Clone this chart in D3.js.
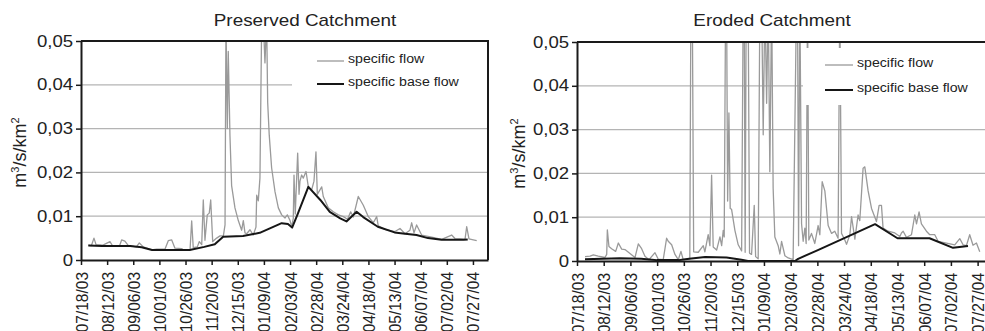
<!DOCTYPE html>
<html><head><meta charset="utf-8">
<script src="https://cdn.jsdelivr.net/npm/d3@7"></script>
<style>
html,body{margin:0;padding:0;background:#fff;}
svg{display:block;font-family:"Liberation Sans",Arial,sans-serif;}
</style></head>
<body>
<svg id="chart" width="985" height="331"></svg>
<script>
// ---------- data (day offsets from 07/18/03, values in m3/s/km2) ----------
const tickLabels = ["07/18/03","08/12/03","09/06/03","10/01/03","10/26/03","11/20/03","12/15/03","01/09/04","02/03/04","02/28/04","03/24/04","04/18/04","05/13/04","06/07/04","07/02/04","07/27/04"];
const tickDays = [0,25,50,75,100,125,150,175,200,225,250,275,300,325,350,375];
const yTicks = [0,0.01,0.02,0.03,0.04,0.05];
const titles = ["Preserved Catchment","Eroded Catchment"];
const seriesNames = ["specific flow","specific base flow"];

const preservedFlowDay = [7,10,12.4,14.4,21,27.7,30.3,37,38.9,42,45.3,53,55.8,59.6,67.6,72.4,80.4,83.5,86.7,89.9,96.3,98,104.3,105.9,107.4,111.3,113.2,115.5,117,118.6,120.8,122.7,124.1,126,129.8,133,136.2,137.8,138.7,140,140.9,142.5,144.1,147.3,150.5,153.7,155.3,156.9,158.5,161.7,164.8,167.4,168.1,169.6,171.2,172.9,174.4,176,177.6,178.6,180.1,182.4,185.6,188.8,192,195.2,197.4,200,201.6,203.1,203.8,205,206.4,207.3,208.6,209.5,211.1,212.7,215.3,217.5,220.7,222.9,224.8,226.1,230.3,231.8,236.6,241.4,246.2,251,255,258,260.5,265.3,270.1,274.9,279.7,282.9,284.4,290.8,300.4,305.2,310,314.7,316.4,318.6,321.1,325.9,335.5,345.1,354.6,357.8,362.6,367.4,369,371.2,375.3,378.6];
const preservedFlow = [0.0034,0.0033,0.005,0.0035,0.0034,0.0042,0.0032,0.0033,0.0046,0.0043,0.0033,0.003,0.0039,0.003,0.0023,0.0025,0.0025,0.0044,0.0046,0.0027,0.0026,0.0023,0.0023,0.0089,0.0028,0.003,0.0042,0.0035,0.0137,0.0045,0.0103,0.0107,0.0137,0.0042,0.005,0.0055,0.0055,0.008,0.055,0.03,0.0476,0.0285,0.017,0.0119,0.009,0.0068,0.009,0.0062,0.006,0.0069,0.0057,0.0075,0.0148,0.0135,0.0187,0.055,0.055,0.045,0.055,0.036,0.0285,0.021,0.0156,0.0119,0.0103,0.0096,0.0103,0.009,0.0076,0.0095,0.0194,0.0105,0.019,0.0244,0.015,0.018,0.0194,0.0187,0.0202,0.0167,0.016,0.018,0.0247,0.015,0.0167,0.0145,0.0119,0.011,0.0103,0.0099,0.0093,0.011,0.0098,0.0145,0.0125,0.0099,0.0085,0.0099,0.0078,0.007,0.0065,0.0072,0.006,0.0068,0.0085,0.0062,0.008,0.0057,0.0052,0.0047,0.0057,0.0049,0.0048,0.0047,0.0076,0.0048,0.0046,0.0044];
const preservedBaseDay = [7,20,47,58,68,104,118,128,136,155,171,192,198,202,207,217.5,229,238,248,254,263.7,270,284,300,310,321,332,345,366,370];
const preservedBase = [0.0033,0.0032,0.0032,0.0029,0.0023,0.0023,0.003,0.0036,0.0053,0.0055,0.0062,0.0084,0.0082,0.0074,0.0103,0.0167,0.0137,0.011,0.0095,0.0088,0.011,0.0098,0.0076,0.0063,0.006,0.0057,0.005,0.0046,0.0046,0.0047];

const erodedFlowDay = [7.5,12.2,15.3,19.9,26.2,27.8,28.4,29.9,32.4,36.2,38.7,41.8,44.9,49.6,54.3,57.4,60.5,63.6,67.4,73,76.1,80.7,83.9,85.4,88.6,91.7,94.8,97.3,99.4,105.6,106.6,107.9,109.2,113.5,118.2,119.7,122.8,124.4,126,127.5,130.7,133.8,135.4,136.9,137.8,139.1,140,141,142.2,143.4,144.7,147.8,150.9,154.1,155.6,156.5,157.4,158.4,159.3,160.2,161.5,163.4,165.9,167.2,169.6,171.2,172.8,174.3,175.9,177.5,179,180.5,182.2,183.6,185.2,188.3,189.9,191.5,194.6,197.7,202.3,205.5,206.4,207.4,208.6,210.2,211.7,213.3,214.5,215.8,217,219.5,222.6,225.7,227.3,229.5,232,235.1,238.3,241.3,244.4,246,247.6,250.7,252.3,255.4,257,260.1,263.1,264.7,267.8,269.4,272.5,275.7,280.3,282.8,285,286.5,291.2,297.5,302.2,303.7,305.3,308.4,313.1,316.2,317.8,320.2,322.4,327.1,330.2,334.9,338,345.8,353.6,358.3,361.4,364.5,367.6,370.7,373.9,377];
const erodedFlow = [0.001,0.0011,0.0014,0.0011,0.0008,0.0015,0.0071,0.0033,0.0028,0.0022,0.0041,0.0027,0.0026,0.0017,0.0008,0.0039,0.0028,0.0011,0.0003,0.0019,0.0004,0.0003,0.0052,0.0045,0.0037,0.0015,0.0003,0.0022,0.0003,0.0005,0.06,0.06,0.0021,0.002,0.0035,0.0021,0.006,0.0035,0.0196,0.0032,0.0025,0.0055,0.0035,0.007,0.0055,0.06,0.06,0.0137,0.0338,0.012,0.0118,0.007,0.0037,0.0023,0.06,0.06,0.002,0.06,0.06,0.06,0.0018,0.0015,0.0127,0.001,0.0005,0.06,0.06,0.0288,0.06,0.036,0.06,0.0204,0.06,0.0166,0.0055,0.0035,0.0016,0.0045,0.0012,0.0007,0.0003,0.06,0.06,0.0035,0.06,0.0085,0.0045,0.0075,0.004,0.06,0.0048,0.0063,0.004,0.0081,0.006,0.0181,0.016,0.0081,0.0063,0.0068,0.0052,0.06,0.0063,0.0048,0.0038,0.006,0.0101,0.005,0.0105,0.0092,0.0212,0.0215,0.016,0.012,0.009,0.0127,0.0127,0.0075,0.0068,0.0064,0.0056,0.0064,0.0068,0.0054,0.006,0.0105,0.0085,0.0112,0.0085,0.0068,0.006,0.006,0.0045,0.0041,0.0037,0.0051,0.0037,0.0035,0.006,0.0036,0.0041,0.0021];
const erodedBaseDay = [7.5,40,60,75,95,105,120,140,154,160,204,207,225.5,279,300,330,352,366];
const erodedBase = [0.0004,0.0006,0.0005,0.0002,0.0002,0.0005,0.0009,0.0008,0.0003,0,0,0.0005,0.0025,0.0084,0.0052,0.0052,0.003,0.0034];

// ---------- drawing ----------
const svg = d3.select("#chart");
const SX = 1.16;
const fmt = v => v === 0 ? "0" : d3.format(".2f")(v).replace(".", ",");
const zip = (a, b) => a.map((d, i) => ({d, v: b[i]}));

const panels = [
  {x0:81, x1:488, yb:260, yt:41, titleX:305, ylabX:20, legX:292, legY:44, legW:196, legH:59, legLine:[317,344], legRows:[61,84],
   flow: zip(preservedFlowDay, preservedFlow), base: zip(preservedBaseDay, preservedBase), title: titles[0]},
  {x0:577, x1:993, yb:261, yt:42, titleX:772, ylabX:519, legX:803, legY:48, legW:190, legH:57, legLine:[825,853], legRows:[65,90],
   flow: zip(erodedFlowDay, erodedFlow), base: zip(erodedBaseDay, erodedBase), title: titles[1]}
];

panels.forEach((p, pi) => {
  const x = d3.scaleLinear().domain([0, 389.4]).range([p.x0, p.x1]);
  const y = d3.scaleLinear().domain([0, 0.05]).range([p.yb, p.yt]);
  const g = svg.append("g");

  // gridlines
  g.selectAll("line.grid").data(yTicks.filter(v => v > 0 && v < 0.05)).join("line")
    .attr("x1", p.x0).attr("x2", p.x1).attr("y1", d => y(d)).attr("y2", d => y(d))
    .attr("stroke", "#b4b4b4").attr("stroke-width", 1.2);

  const clipId = "clip" + pi;
  svg.append("clipPath").attr("id", clipId).append("rect")
    .attr("x", p.x0).attr("y", p.yt).attr("width", p.x1 - p.x0).attr("height", p.yb - p.yt);

  const line = d3.line().x(d => x(d.d)).y(d => y(d.v));
  const plot = g.append("g").attr("clip-path", `url(#${clipId})`);
  plot.append("path").datum(p.flow).attr("d", line)
    .attr("fill", "none").attr("stroke", "#9a9a9a").attr("stroke-width", 1.3).attr("stroke-linejoin", "round");
  plot.append("path").datum(p.base).attr("d", line)
    .attr("fill", "none").attr("stroke", "#161616").attr("stroke-width", 2).attr("stroke-linejoin", "round");

  // legend box (white, covers plot)
  g.append("rect").attr("x", p.legX).attr("y", p.legY).attr("width", p.legW).attr("height", p.legH).attr("fill", "#fff");
  seriesNames.forEach((name, i) => {
    const yy = p.legRows[i];
    g.append("line").attr("x1", p.legLine[0]).attr("x2", p.legLine[1]).attr("y1", yy).attr("y2", yy)
      .attr("stroke", i === 0 ? "#9a9a9a" : "#161616").attr("stroke-width", i === 0 ? 1.3 : 2);
    g.append("text").attr("transform", `translate(${p.legLine[1] + 4},${yy + 1.5}) scale(${SX},1)`)
      .attr("font-size", 12.2).attr("fill", "#222").text(name);
  });

  // frame (top & right)
  g.append("path").attr("d", `M${p.x0},${p.yt}H${p.x1}V${p.yb}`)
    .attr("fill", "none").attr("stroke", "#1a1a1a").attr("stroke-width", 2);

  // y axis
  const ya = g.append("g").attr("transform", `translate(${p.x0},0)`)
    .call(d3.axisLeft(y).tickValues(yTicks).tickSize(5).tickSizeOuter(0).tickPadding(3).tickFormat(fmt));
  ya.select(".domain").attr("stroke", "#1a1a1a").attr("stroke-width", 2);
  ya.selectAll(".tick line").attr("stroke", "#1a1a1a").attr("stroke-width", 1.5);
  ya.selectAll(".tick text").attr("font-size", 16).attr("fill", "#222")
    .attr("font-family", "'Liberation Sans',Arial,sans-serif")
    .attr("x", -8 / SX).attr("transform", `scale(${SX},1)`);

  // x axis
  const xa = g.append("g").attr("transform", `translate(0,${p.yb})`)
    .call(d3.axisBottom(x).tickValues(tickDays).tickSize(5).tickSizeOuter(0).tickFormat((d, i) => tickLabels[i]));
  xa.select(".domain").attr("stroke", "#1a1a1a").attr("stroke-width", 2);
  xa.selectAll(".tick line").attr("stroke", "#1a1a1a").attr("stroke-width", 1.5);
  xa.selectAll(".tick text").attr("font-size", 15.5).attr("fill", "#222")
    .attr("font-family", "'Liberation Sans',Arial,sans-serif")
    .attr("text-anchor", "end").attr("x", -12).attr("y", 0).attr("dy", "0.36em")
    .attr("transform", `scale(1.08,1) rotate(-90)`);

  // title
  g.append("text").attr("transform", `translate(${p.titleX},26) scale(${SX + 0.02},1)`)
    .attr("text-anchor", "middle").attr("font-size", 16).attr("fill", "#222").text(p.title);

  // y label
  const yl = g.append("text").attr("transform", `translate(${p.ylabX + 6},${(p.yt + p.yb) / 2 + 2}) rotate(-90)`)
    .attr("text-anchor", "middle").attr("font-size", 18).attr("fill", "#222");
  yl.append("tspan").text("m");
  yl.append("tspan").attr("font-size", 11).attr("dy", -7).text("3");
  yl.append("tspan").attr("dy", 7).text("/s/km");
  yl.append("tspan").attr("font-size", 11).attr("dy", -7).text("2");
});
</script>
</body></html>
